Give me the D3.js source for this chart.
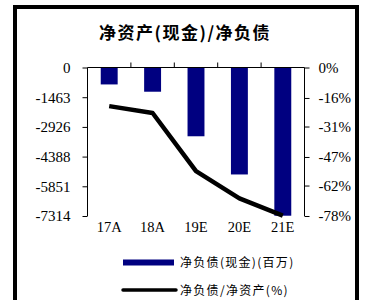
<!DOCTYPE html>
<html><head><meta charset="utf-8">
<script src="https://cdn.jsdelivr.net/npm/d3@7"></script>
<style>body{margin:0;background:#fff;}svg{display:block;}</style>
</head><body>
<svg id="c" width="366" height="300"></svg>
<script>
const categories = ["17A","18A","19E","20E","21E"];
const netDebt = [-834, -1193, -3387, -5268, -7300];
const gearing = [-20.3, -23.9, -54.4, -68.7, -77.8];
const leftTicks = [0, -1463, -2926, -4388, -5851, -7314];
const rightTicks = [0, -16, -31, -47, -62, -78];
const title = "净资产(现金)/净负债";
const legendLabels = ["净负债(现金)(百万)", "净负债/净资产(%)"];

const svg = d3.select("#c");
const serif = "'Liberation Serif','DejaVu Serif',serif";
const cjk = "'Noto Sans CJK SC',sans-serif";

// frame
svg.append("path").attr("d","M15,302 V7 H357 V302").attr("fill","none").attr("stroke","#000").attr("stroke-width",4);

svg.append("text").attr("x",185).attr("y",39).attr("text-anchor","middle")
  .attr("font-family",cjk).attr("font-weight","bold").attr("font-size",17)
  .attr("letter-spacing",1.5).text(title);

const L = 87.5, R = 304.5, T = 67.5, B = 216;
const x = d3.scaleBand().domain(categories).range([L,R]).paddingInner(0.61).paddingOuter(0.305);
const xb = d3.scaleBand().domain(categories).range([L,R]);
const yL = d3.scaleLinear().domain([-7314,0]).range([B,T]);
const yR = d3.scaleLinear().domain([-78,0]).range([B,T]);

// bars
svg.selectAll("rect.bar").data(netDebt).enter().append("rect")
  .attr("x",(d,i)=>x(categories[i])).attr("width",x.bandwidth())
  .attr("y",yL(0)).attr("height",d=>yL(d)-yL(0)).attr("fill","#000080");

// left axis
const gl = svg.append("g").attr("transform",`translate(${L},0)`)
  .call(d3.axisLeft(yL).tickValues(leftTicks).tickSize(5).tickPadding(12).tickFormat(d=>d));
// right axis
const gr = svg.append("g").attr("transform",`translate(${R},0)`)
  .call(d3.axisRight(yR).tickValues(rightTicks).tickSize(5).tickPadding(9).tickFormat(d=>d+"%"));
// x axis at top (0), ticks up at boundaries
const gx = svg.append("g").attr("transform",`translate(0,${T})`);
gx.append("line").attr("x1",L).attr("x2",R).attr("stroke","#000");
gx.selectAll("line.t").data(categories.slice(1)).enter().append("line")
  .attr("x1",d=>xb(d)).attr("x2",d=>xb(d)).attr("y1",0).attr("y2",-5).attr("stroke","#000");
[gl,gr].forEach(g=>{
  g.select(".domain").attr("stroke","#000").attr("d",`M0,${T}V${B}`);
  g.selectAll("text").attr("font-family",serif).attr("font-size",15).attr("fill","#000");
  g.selectAll("line").attr("stroke","#000");
});
// category labels at bottom
svg.selectAll("text.cat").data(categories).enter().append("text")
  .attr("x",d=>xb(d)+xb.bandwidth()/2).attr("y",B+16).attr("text-anchor","middle")
  .attr("font-family",serif).attr("font-size",14.5).text(d=>d);

// line
const line = d3.line().x((d,i)=>xb(categories[i])+xb.bandwidth()/2).y(d=>yR(d));
svg.append("path").datum(gearing).attr("d",line).attr("fill","none")
  .attr("stroke","#000").attr("stroke-width",4.5).attr("stroke-linejoin","round");

// legend
svg.append("line").attr("x1",123).attr("x2",174).attr("y1",262.5).attr("y2",262.5).attr("stroke","#000080").attr("stroke-width",6);
svg.append("line").attr("x1",123).attr("x2",176).attr("y1",290).attr("y2",290).attr("stroke","#000").attr("stroke-width",3.5).attr("stroke-linecap","round");
legendLabels.forEach((t,i)=>{
  svg.append("text").attr("x",180).attr("y",[267,295][i]).attr("font-family",cjk)
    .attr("font-size",12).attr("letter-spacing",1.3).text(t);
});
</script>
</body></html>
